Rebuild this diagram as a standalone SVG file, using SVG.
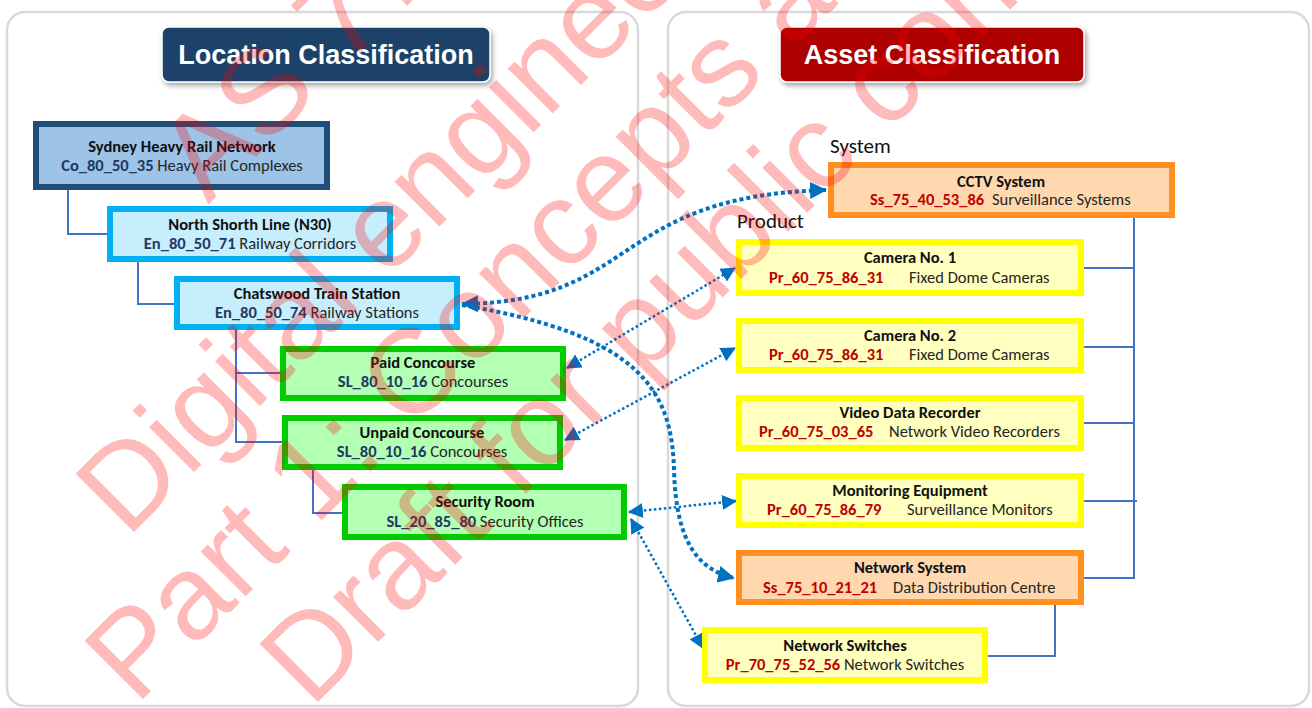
<svg xmlns="http://www.w3.org/2000/svg" width="1312" height="708" viewBox="0 0 1312 708">
  <defs>
    <style>
      .panel { fill: #ffffff; stroke: #d9d9d9; stroke-width: 2.5; }
      .title { font-family: "Liberation Sans", Arial, sans-serif; font-weight: bold; font-size: 27px; fill: #ffffff; text-anchor: middle; }
      .hd { font-family: Carlito, Lato, "Open Sans", sans-serif; font-weight: bold; font-size: 16.5px; fill: #111111; text-anchor: middle; }
      .ln { font-family: Carlito, Lato, "Open Sans", sans-serif; font-size: 16.5px; fill: #262626; }
      .mid { text-anchor: middle; }
      .codeL { font-weight: bold; fill: #1f3864; }
      .codeR { font-family: Carlito, Lato, "Open Sans", sans-serif; font-weight: bold; font-size: 16.5px; fill: #c00000; }
      .lbl { font-family: Carlito, Lato, "Open Sans", sans-serif; font-size: 21px; fill: #111111; }
      .navy { fill: #9dc3e6; stroke: #1f4e79; stroke-width: 6; }
      .cyan { fill: #c7eefc; stroke: #00b0f0; stroke-width: 6; }
      .green { fill: #b3ffb3; stroke: #00cc00; stroke-width: 6; }
      .yellow { fill: #ffffbf; stroke: #ffff00; stroke-width: 6; }
      .orange { fill: #ffd8b0; stroke: #ff8f1f; stroke-width: 6; }
      .tree { fill: none; stroke: #4472c4; stroke-width: 2; }
      .thick { fill: none; stroke: #0070c0; stroke-width: 4; stroke-dasharray: 4 3; }
      .thin { fill: none; stroke: #0070c0; stroke-width: 2.5; stroke-dasharray: 2.5 2.5; }
      .wm { font-family: "Liberation Sans", Arial, sans-serif; font-size: 120px; fill: #ff0000; fill-opacity: 0.27; }
    </style>
    <filter id="shadow" x="-10%" y="-20%" width="125%" height="160%">
      <feDropShadow dx="2" dy="3" stdDeviation="2.5" flood-color="#000000" flood-opacity="0.35"/>
    </filter>
    <marker id="arrowBig" viewBox="0 0 16 16" refX="15" refY="8" markerWidth="17" markerHeight="17" markerUnits="userSpaceOnUse" orient="auto-start-reverse">
      <path d="M0,0 L16,8 L0,16 z" fill="#0070c0"/>
    </marker>
    <marker id="arrow" viewBox="0 0 14 14" refX="13" refY="7" markerWidth="15" markerHeight="15" markerUnits="userSpaceOnUse" orient="auto-start-reverse">
      <path d="M0,0 L14,7 L0,14 z" fill="#0070c0"/>
    </marker>
  </defs>

  <!-- panels -->
  <rect class="panel" x="7" y="12" width="631" height="694" rx="18"/>
  <rect class="panel" x="668" y="12" width="641" height="694" rx="18"/>

  <!-- panel headings -->
  <g id="location-title">
    <rect x="162" y="27" width="328" height="55" rx="7" fill="#1e4369" stroke="#ffffff" stroke-width="1.5" filter="url(#shadow)"/>
    <text class="title" x="326" y="64">Location Classification</text>
  </g>
  <g id="asset-title">
    <rect x="780" y="27" width="304" height="55" rx="7" fill="#ad0000" stroke="#ffffff" stroke-width="1.5" filter="url(#shadow)"/>
    <text class="title" x="932" y="64">Asset Classification</text>
  </g>

  <text class="lbl" x="830" y="153">System</text>
  <text class="lbl" x="737" y="228">Product</text>

  <!-- hierarchy lines -->
  <g id="connectors">
    <path class="tree" d="M68 190 V234 H107"/>
    <path class="tree" d="M138 262 V304 H174"/>
    <path class="tree" d="M236 330 V442 H282 M236 373 H280"/>
    <path class="tree" d="M313 470 V513 H342"/>
    <path class="tree" d="M1134 218 V578 H1084 M1084 268 H1134 M1084 347 H1134 M1084 423 H1134 M1084 501 H1137"/>
    <path class="tree" d="M1055 605 V656 H988"/>

    <!-- classification links -->
    <path class="thick" d="M462 304 C640 302 610 196 826 190" marker-start="url(#arrowBig)" marker-end="url(#arrowBig)"/>
    <path class="thick" d="M462 305 C640 335 672 390 674 470 C676 545 700 570 734 578" marker-end="url(#arrowBig)"/>
    <path class="thin" d="M567 368 L735 268" marker-start="url(#arrow)" marker-end="url(#arrow)"/>
    <path class="thin" d="M565 440 L735 348" marker-start="url(#arrow)" marker-end="url(#arrow)"/>
    <path class="thin" d="M629 512 L736 501" marker-start="url(#arrow)" marker-end="url(#arrow)"/>
    <path class="thin" d="M631 519 L703 648" marker-start="url(#arrow)" marker-end="url(#arrow)"/>
  </g>

  <!-- location nodes -->
  <g id="sydney">
    <rect class="navy" x="36" y="124" width="291" height="63"/>
    <text class="hd" x="182" y="152">Sydney Heavy Rail Network</text>
    <text class="ln mid" x="182" y="171"><tspan class="codeL">Co_80_50_35</tspan> Heavy Rail Complexes</text>
  </g>
  <g id="north-shore">
    <rect class="cyan" x="110" y="209" width="280" height="50"/>
    <text class="hd" x="250" y="230">North Shorth Line (N30)</text>
    <text class="ln mid" x="250" y="249"><tspan class="codeL">En_80_50_71</tspan> Railway Corridors</text>
  </g>
  <g id="chatswood">
    <rect class="cyan" x="177" y="279" width="280" height="48"/>
    <text class="hd" x="317" y="299">Chatswood Train Station</text>
    <text class="ln mid" x="317" y="318"><tspan class="codeL">En_80_50_74</tspan> Railway Stations</text>
  </g>
  <g id="paid-concourse">
    <rect class="green" x="283" y="349" width="280" height="49"/>
    <text class="hd" x="423" y="368">Paid Concourse</text>
    <text class="ln mid" x="423" y="387"><tspan class="codeL">SL_80_10_16</tspan> Concourses</text>
  </g>
  <g id="unpaid-concourse">
    <rect class="green" x="285" y="418" width="275" height="49"/>
    <text class="hd" x="422" y="438">Unpaid Concourse</text>
    <text class="ln mid" x="422" y="457"><tspan class="codeL">SL_80_10_16</tspan> Concourses</text>
  </g>
  <g id="security-room">
    <rect class="green" x="345" y="487" width="279" height="50"/>
    <text class="hd" x="485" y="507">Security Room</text>
    <text class="ln mid" x="485" y="527"><tspan class="codeL">SL_20_85_80</tspan> Security Offices</text>
  </g>

  <!-- asset nodes -->
  <g id="cctv-system">
    <rect class="orange" x="831" y="165" width="341" height="50"/>
    <text class="hd" x="1001" y="187">CCTV System</text>
    <text class="codeR" x="870" y="205">Ss_75_40_53_86</text>
    <text class="ln" x="992" y="205">Surveillance Systems</text>
  </g>
  <g id="camera-1">
    <rect class="yellow" x="739" y="242" width="342" height="51"/>
    <text class="hd" x="910" y="263">Camera No. 1</text>
    <text class="codeR" x="769" y="283">Pr_60_75_86_31</text>
    <text class="ln" x="909" y="283">Fixed Dome Cameras</text>
  </g>
  <g id="camera-2">
    <rect class="yellow" x="739" y="321" width="342" height="49"/>
    <text class="hd" x="910" y="341">Camera No. 2</text>
    <text class="codeR" x="769" y="360">Pr_60_75_86_31</text>
    <text class="ln" x="909" y="360">Fixed Dome Cameras</text>
  </g>
  <g id="video-recorder">
    <rect class="yellow" x="739" y="398" width="342" height="50"/>
    <text class="hd" x="910" y="418">Video Data Recorder</text>
    <text class="codeR" x="759" y="437">Pr_60_75_03_65</text>
    <text class="ln" x="889" y="437">Network Video Recorders</text>
  </g>
  <g id="monitoring">
    <rect class="yellow" x="739" y="476" width="342" height="49"/>
    <text class="hd" x="910" y="496">Monitoring Equipment</text>
    <text class="codeR" x="767" y="515">Pr_60_75_86_79</text>
    <text class="ln" x="907" y="515">Surveillance Monitors</text>
  </g>
  <g id="network-system">
    <rect class="orange" x="739" y="553" width="342" height="49"/>
    <text class="hd" x="910" y="573">Network System</text>
    <text class="codeR" x="763" y="593">Ss_75_10_21_21</text>
    <text class="ln" x="893" y="593">Data Distribution Centre</text>
  </g>
  <g id="network-switches">
    <rect class="yellow" x="705" y="630" width="280" height="50"/>
    <text class="hd" x="845" y="651">Network Switches</text>
    <text class="ln mid" x="845" y="670"><tspan class="codeR">Pr_70_75_52_56</tspan> Network Switches</text>
  </g>

  <!-- draft watermark -->
  <g id="watermark">
    <text class="wm" transform="translate(208 205) rotate(-45)">AS 7738.1</text>
    <text class="wm" transform="translate(127 539) rotate(-45)">Digital engineering</text>
    <text class="wm" transform="translate(136 706) rotate(-45)">Part 1: Concepts and principles</text>
    <text class="wm" transform="translate(311 709) rotate(-45)">Draft for public consultation</text>
  </g>
</svg>
